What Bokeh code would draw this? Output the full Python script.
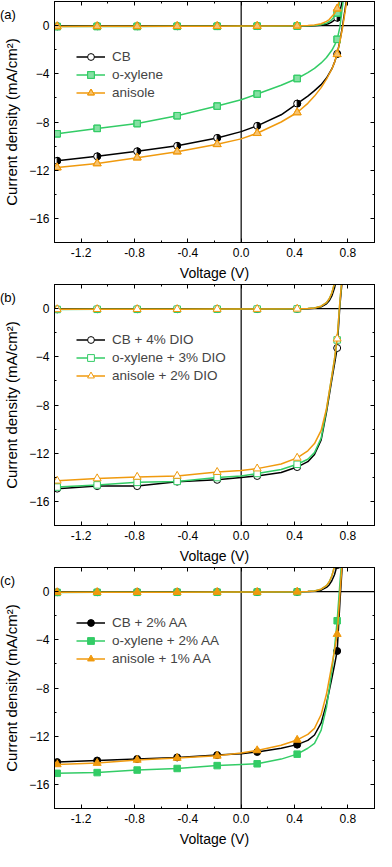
from bokeh.plotting import figure
from bokeh.models import (Span, Div, Legend, LegendItem, SingleIntervalTicker,
                          LinearAxis, NumeralTickFormatter, Range1d, ColumnDataSource)
from bokeh.layouts import column
from bokeh.embed import file_html
from bokeh.resources import INLINE

FONT = "Liberation Sans"
BLACK = "#000000"
GREEN = "#33CC66"
ORANGE = "#F09A0E"

# voltages (V)
V_LIGHT = [-1.40, -1.38, -1.08, -0.78, -0.48, -0.18, 0.00, 0.12, 0.30, 0.42, 0.50,
           0.55, 0.60, 0.64, 0.68, 0.70, 0.72, 0.74, 0.76, 0.78, 0.80]
V_DARK = [-1.40, -1.38, -1.08, -0.78, -0.48, -0.18, 0.00, 0.12, 0.42, 0.50, 0.55,
          0.60, 0.64, 0.66, 0.68, 0.70, 0.72, 0.74, 0.76, 0.78]
MARK_V = [-1.38, -1.08, -0.78, -0.48, -0.18, 0.12, 0.42, 0.72]

# panel (a) current density (mA/cm2)
A_CB_L = [-11.25, -11.22, -10.85, -10.43, -9.98, -9.32, -8.80, -8.32, -7.40, -6.47, -5.85,
          -5.40, -4.90, -4.35, -3.60, -3.05, -2.35, -1.30, -0.05, 1.40, 2.90]
A_XY_L = [-9.00, -8.98, -8.53, -8.13, -7.48, -6.68, -6.15, -5.68, -4.95, -4.39, -3.90,
          -3.55, -3.10, -2.65, -2.05, -1.65, -1.14, -0.15, 1.60, 3.40, 5.00]
A_AN_L = [-11.80, -11.78, -11.44, -10.96, -10.46, -9.85, -9.40, -8.93, -8.00, -7.21, -6.45,
          -5.85, -5.15, -4.45, -3.60, -3.05, -2.38, -1.35, -0.20, 1.20, 2.70]
A_CB_D = [-0.06, -0.06, -0.05, -0.05, -0.05, -0.04, -0.04, -0.04, -0.03, -0.03, -0.02,
          0.02, 0.10, 0.18, 0.30, 0.45, 0.65, 1.15, 2.10, 3.50]
A_XY_D = [-0.08, -0.08, -0.07, -0.07, -0.06, -0.06, -0.05, -0.05, -0.04, -0.02, 0.00,
          0.08, 0.20, 0.32, 0.50, 0.75, 1.05, 2.00, 3.50, 5.00]
A_AN_D = [-0.07, -0.07, -0.06, -0.06, -0.05, -0.05, -0.04, -0.04, -0.02, 0.00, 0.05,
          0.15, 0.35, 0.50, 0.75, 1.00, 1.40, 2.30, 3.50, 5.00]

# panel (b)
B_CB_L = [-14.95, -14.94, -14.73, -14.73, -14.36, -14.21, -14.02, -13.89, -13.60, -13.15, -12.70,
          -12.10, -10.90, -8.60, -5.90, -4.60, -3.27, 0.20, 2.60, 5.00, 7.00]
B_XY_L = [-14.83, -14.81, -14.63, -14.42, -14.34, -14.02, -13.90, -13.68, -13.35, -12.92, -12.50,
          -11.95, -10.75, -8.40, -5.60, -4.20, -2.60, 0.50, 3.00, 5.50, 8.00]
B_AN_L = [-14.30, -14.29, -14.10, -13.97, -13.89, -13.57, -13.44, -13.28, -12.90, -12.39, -11.80,
          -11.20, -10.10, -8.30, -5.60, -4.20, -2.50, 0.50, 3.00, 5.50, 8.00]
B_CB_D = [-0.06, -0.06, -0.05, -0.05, -0.05, -0.04, -0.04, -0.04, -0.03, -0.01, 0.03,
          0.15, 0.40, 0.65, 1.05, 1.70, 2.70, 4.00, 5.50, 7.00]
B_XY_D = [-0.07, -0.07, -0.06, -0.06, -0.05, -0.05, -0.04, -0.04, -0.03, 0.00, 0.05,
          0.20, 0.50, 0.80, 1.30, 2.10, 3.20, 4.50, 6.00, 7.50]
B_AN_D = [-0.06, -0.06, -0.05, -0.05, -0.05, -0.04, -0.04, -0.04, -0.02, 0.00, 0.05,
          0.20, 0.50, 0.80, 1.30, 2.10, 3.20, 4.50, 6.00, 7.50]

# panel (c)
C_CB_L = [-14.20, -14.15, -14.02, -13.89, -13.76, -13.57, -13.45, -13.31, -13.00, -12.70, -12.35,
          -11.90, -10.90, -9.30, -7.20, -6.10, -4.93, -1.00, 2.50, 5.00, 7.00]
C_XY_L = [-15.10, -15.08, -15.02, -14.81, -14.68, -14.44, -14.35, -14.29, -13.90, -13.49, -13.00,
          -12.60, -11.50, -9.60, -6.60, -4.70, -2.42, 0.60, 3.50, 6.00, 8.00]
C_AN_L = [-14.40, -14.34, -14.23, -13.97, -13.81, -13.63, -13.40, -13.18, -12.75, -12.31, -11.85,
          -11.35, -10.20, -8.50, -6.10, -4.90, -3.53, -0.30, 2.80, 5.50, 8.00]
C_CB_D = [-0.05, -0.05, -0.05, -0.04, -0.04, -0.04, -0.03, -0.03, -0.02, 0.00, 0.02,
          0.12, 0.35, 0.55, 0.90, 1.40, 2.20, 3.50, 5.00, 6.50]
C_XY_D = [-0.07, -0.07, -0.06, -0.06, -0.05, -0.05, -0.04, -0.04, -0.03, 0.00, 0.05,
          0.20, 0.50, 0.80, 1.30, 2.10, 3.20, 4.50, 6.00, 7.50]
C_AN_D = [-0.06, -0.06, -0.05, -0.05, -0.05, -0.04, -0.04, -0.04, -0.02, 0.00, 0.05,
          0.20, 0.50, 0.80, 1.30, 2.10, 3.20, 4.50, 6.00, 7.50]

LABELS_A = ["CB", "o-xylene", "anisole"]
LABELS_B = ["CB + 4% DIO", "o-xylene + 3% DIO", "anisole + 2% DIO"]
LABELS_C = ["CB + 2% AA", "o-xylene + 2% AA", "anisole + 1% AA"]
TAGS = ["(a)", "(b)", "(c)"]

COLORS = [BLACK, GREEN, ORANGE]
MARKERS = ["circle", "square", "triangle"]
SIZES = [7, 6.5, 8]

W, H = 376, 283
BL = 44


def pick(vs, js):
    return [js[vs.index(v)] for v in MARK_V]


def style_axis(ax, ticker, fmt=None, hidden=False):
    ax.ticker = ticker
    if fmt is not None:
        ax.formatter = fmt
    ax.axis_line_color = "black"
    ax.major_tick_in = 4
    ax.major_tick_out = 0
    ax.minor_tick_in = 2
    ax.minor_tick_out = 0
    ax.major_tick_line_color = "black"
    ax.minor_tick_line_color = "black"
    ax.major_label_text_font = FONT
    ax.axis_label_text_font = FONT
    ax.axis_label_text_font_style = "normal"
    ax.axis_label_text_color = "black"
    if hidden:
        ax.major_label_text_font_size = "1px"
        ax.major_label_text_color = None
        ax.major_label_standoff = 0
    else:
        ax.major_label_text_color = "black"
        ax.major_label_text_font_size = "12px"


def panel(light, dark, labels, mode):
    p = figure(width=W, height=H, x_range=Range1d(-1.4, 1.0), y_range=Range1d(-18, 2),
               output_backend="svg", toolbar_location=None,
               min_border_left=BL, min_border_right=2, min_border_top=1, min_border_bottom=34)
    p.xgrid.visible = False
    p.ygrid.visible = False
    p.outline_line_color = "black"
    p.outline_line_alpha = 1
    p.background_fill_color = "white"

    xt = lambda: SingleIntervalTicker(interval=0.4, num_minor_ticks=2)
    yt = lambda: SingleIntervalTicker(interval=4, num_minor_ticks=2)
    style_axis(p.xaxis[0], xt(), NumeralTickFormatter(format="0.0"))
    style_axis(p.yaxis[0], yt())
    p.xaxis[0].axis_label = "Voltage (V)"
    p.xaxis[0].axis_label_text_font_size = "14px"
    p.xaxis[0].major_label_standoff = 5
    p.xaxis[0].axis_label_standoff = 5
    p.yaxis[0].axis_label = "Current density (mA/cm²)"
    p.yaxis[0].axis_label_text_font_size = "15px"
    p.yaxis[0].major_label_standoff = 5
    p.yaxis[0].axis_label_standoff = 6

    top = LinearAxis()
    style_axis(top, xt(), hidden=True)
    p.add_layout(top, "above")
    right = LinearAxis()
    style_axis(right, yt(), hidden=True)
    p.add_layout(right, "right")

    p.add_layout(Span(location=0, dimension="height", line_color="black", line_width=1.2, level="underlay"))
    p.add_layout(Span(location=0, dimension="width", line_color="black", line_width=1.2, level="underlay"))

    items = []
    for i in range(3):
        c, m, s = COLORS[i], MARKERS[i], SIZES[i]
        lr = p.line(V_LIGHT, light[i], line_color=c, line_width=1.5)
        p.line(V_DARK, dark[i], line_color=c, line_width=1.5)
        mx = MARK_V + MARK_V
        my = pick(V_LIGHT, light[i]) + pick(V_DARK, dark[i])
        src = ColumnDataSource(dict(x=mx, y=my))
        rends = [lr]
        if mode == "filled":
            rends.append(p.scatter("x", "y", source=src, marker=m, size=s,
                                   fill_color=c, line_color=c, line_width=1))
        elif mode == "open":
            rends.append(p.scatter("x", "y", source=src, marker=m, size=s,
                                   fill_color="white", line_color=c, line_width=1))
        else:
            rends.append(p.scatter("x", "y", source=src, marker=m, size=s,
                                   fill_color="white", line_color=c, line_width=1))
            if m == "circle":
                p.wedge("x", "y", source=src, radius=s / 2, radius_units="screen",
                        start_angle=-1.5708, end_angle=1.5708, fill_color=c, line_color=c)
            else:
                rends.append(p.scatter("x", "y", source=src, marker=m, size=s,
                                       fill_color=c, fill_alpha=0.6, line_color=c, line_width=1))
        items.append(LegendItem(label=labels[i], renderers=rends))

    leg = Legend(items=items, location=(22, 141), padding=0, spacing=1,
                 glyph_width=29, glyph_height=17, label_height=17, label_standoff=7,
                 label_text_font=FONT, label_text_font_size="13.5px",
                 border_line_color=None, background_fill_alpha=0)
    p.add_layout(leg, "center")
    return p


def tag_div(text):
    top = 7
    hh = 18
    return Div(text=text, width=30, height=hh, margin=(-(H - top), 0, H - top - hh, 0),
               styles={"font-family": FONT, "font-size": "13px", "color": "black",
                       "line-height": "15px", "z-index": "5"})


pa = panel([A_CB_L, A_XY_L, A_AN_L], [A_CB_D, A_XY_D, A_AN_D], LABELS_A, "half")
pb = panel([B_CB_L, B_XY_L, B_AN_L], [B_CB_D, B_XY_D, B_AN_D], LABELS_B, "open")
pc = panel([C_CB_L, C_XY_L, C_AN_L], [C_CB_D, C_XY_D, C_AN_D], LABELS_C, "filled")

layout = column(pa, tag_div(TAGS[0]), pb, tag_div(TAGS[1]), pc, tag_div(TAGS[2]))
open("out.html", "w").write(file_html(layout, INLINE))
